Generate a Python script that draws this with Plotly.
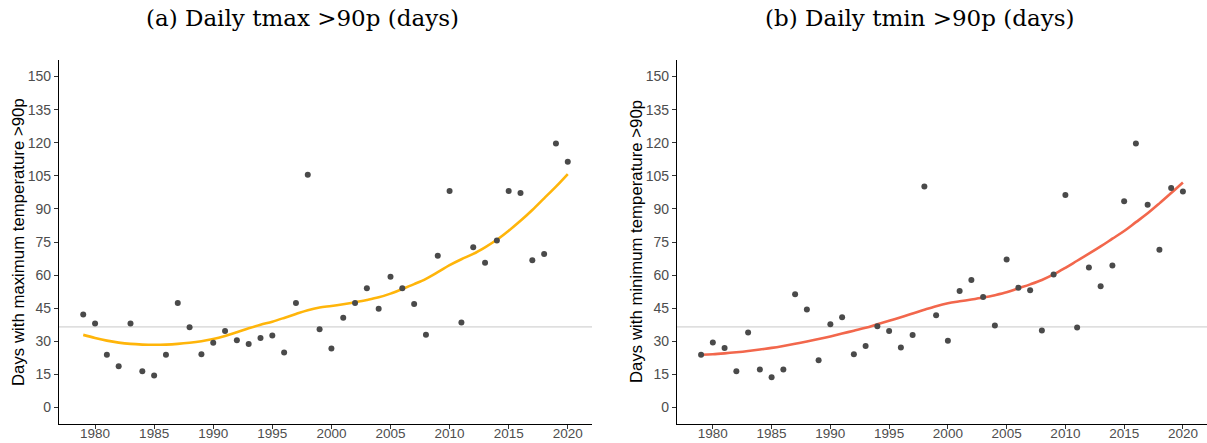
import plotly.graph_objects as go

years = list(range(1979, 2021))

tmax_days = [42.1, 38.0, 23.9, 18.7, 38.0, 16.4, 14.5, 23.9, 47.4, 36.4,
             24.1, 29.3, 34.6, 30.5, 28.8, 31.5, 32.6, 24.9, 47.4, 105.5,
             35.5, 26.7, 40.7, 47.4, 54.0, 44.7, 59.2, 54.0, 46.9, 33.0,
             68.8, 98.1, 38.5, 72.6, 65.6, 75.7, 98.1, 97.2, 66.7, 69.6,
             119.7, 111.4]

tmax_smooth = [32.9, 31.5, 30.3, 29.4, 28.8, 28.5, 28.4, 28.5, 28.8, 29.3,
               30.0, 31.0, 32.4, 34.1, 35.9, 37.5, 38.9, 40.6, 42.4, 44.1,
               45.3, 46.0, 46.8, 47.7, 48.7, 49.9, 51.6, 53.7, 55.9, 58.3,
               61.3, 64.5, 67.2, 69.6, 72.6, 76.0, 80.1, 84.6, 89.5, 94.8,
               100.1, 105.8]

tmin_days = [23.9, 29.4, 27.0, 16.4, 34.0, 17.2, 13.7, 17.2, 51.3, 44.4,
             21.4, 37.7, 40.9, 24.1, 27.9, 36.8, 34.6, 27.2, 32.9, 100.2,
             41.8, 30.2, 52.8, 57.8, 50.1, 37.1, 67.1, 54.3, 53.1, 34.9,
             60.3, 96.3, 36.2, 63.4, 54.9, 64.4, 93.5, 119.7, 91.9, 71.5,
             99.5, 97.9]

tmin_smooth = [23.9, 24.1, 24.5, 25.0, 25.6, 26.3, 27.0, 27.9, 28.9, 29.9,
               31.0, 32.2, 33.5, 34.8, 36.1, 37.7, 39.3, 40.9, 42.6, 44.3,
               45.9, 47.2, 48.1, 48.9, 49.8, 50.9, 52.2, 54.0, 55.8, 57.8,
               60.3, 63.3, 66.5, 69.7, 73.0, 76.5, 80.0, 84.0, 88.0, 92.5,
               97.2, 102.0]

ref_level = 36.5
titles = ["(a) Daily tmax >90p (days)", "(b) Daily tmin >90p (days)"]
ytitles = ["Days with maximum temperature >90p", "Days with minimum temperature >90p"]
x_ticks = [1980, 1985, 1990, 1995, 2000, 2005, 2010, 2015, 2020]
y_ticks = [0, 15, 30, 45, 60, 75, 90, 105, 120, 135, 150]
x_range = [1976.95, 2022.05]
y_range = [-7.5, 157.5]

W, H = 1207, 443
fig = go.Figure()

line_colors = ["#FFB50A", "#F2674C"]
series = [(tmax_days, tmax_smooth), (tmin_days, tmin_smooth)]
xnames = ["x", "x2"]
ynames = ["y", "y2"]
tick_axes = ["x3", "x4"]

for i, (pts, sm) in enumerate(series):
    fig.add_trace(go.Scatter(x=years, y=sm, mode="lines", xaxis=xnames[i], yaxis=ynames[i],
                             line=dict(color=line_colors[i], width=2.6, shape="spline"),
                             showlegend=False, hoverinfo="skip"))
    fig.add_trace(go.Scatter(x=years, y=pts, mode="markers", xaxis=xnames[i], yaxis=ynames[i],
                             marker=dict(color="#4a4a4a", size=6),
                             showlegend=False))
    # invisible trace so the tick-mark/axis-line overlay axis renders
    fig.add_trace(go.Scatter(x=[x_ticks[0]], y=[ref_level], mode="markers",
                             xaxis=tick_axes[i], yaxis=ynames[i],
                             marker=dict(opacity=0), showlegend=False, hoverinfo="skip"))
    fig.add_shape(type="line", xref=f"{xnames[i]} domain", yref=ynames[i],
                  x0=0, x1=1, y0=ref_level, y1=ref_level,
                  line=dict(color="#c8c8c8", width=1), layer="below")

doms_x = [[59 / W, 592 / W], [677 / W, 1.0]]
dom_y = [(H - 424) / H, (H - 60) / H]
label_pos = (H - 423) / H

tickfont = dict(family="Liberation Sans, Arial", size=14, color="#4d4d4d")
xtickfont = dict(family="Liberation Sans, Arial", size=13.5, color="#4d4d4d")
layout = dict(width=W, height=H, margin=dict(l=0, r=0, t=0, b=0, autoexpand=False),
              paper_bgcolor="white", plot_bgcolor="white")

for i in range(2):
    sfx = "" if i == 0 else "2"
    # data axis: carries the tick labels only
    layout["xaxis" + sfx] = dict(domain=doms_x[i], anchor="free", position=label_pos,
                                 range=x_range, tickvals=x_ticks, ticks="",
                                 showline=False, showgrid=False, zeroline=False,
                                 automargin=False, tickfont=xtickfont)
    layout["yaxis" + sfx] = dict(domain=dom_y, anchor=xnames[i], range=y_range,
                                 tickvals=y_ticks, ticks="outside", ticklen=4,
                                 tickcolor="#333333", tickwidth=1, showline=True,
                                 linecolor="black", linewidth=1.2, showgrid=False,
                                 zeroline=False, automargin=False, tickfont=tickfont)
    # overlay axis: axis line and tick marks
    layout["xaxis" + str(3 + i)] = dict(domain=doms_x[i], anchor=ynames[i], range=x_range,
                                        overlaying=xnames[i], side="bottom",
                                        tickvals=x_ticks, ticks="outside", ticklen=4,
                                        tickcolor="#333333", tickwidth=1,
                                        showticklabels=False, showline=True,
                                        linecolor="black", linewidth=1.2,
                                        showgrid=False, zeroline=False, automargin=False)

annotations = []
title_centers = [302, 919]
for i in range(2):
    annotations.append(dict(text=titles[i], x=title_centers[i] / W, y=1 - 18 / H,
                            xref="paper", yref="paper", xanchor="center", yanchor="middle",
                            showarrow=False,
                            font=dict(family="DejaVu Serif", size=23, color="black")))
ytitle_x = [18, 636]
for i in range(2):
    annotations.append(dict(text=ytitles[i], x=ytitle_x[i] / W, y=1 - 242 / H,
                            xref="paper", yref="paper", xanchor="center", yanchor="middle",
                            showarrow=False, textangle=-90,
                            font=dict(family="Liberation Sans, Arial", size=16.8, color="black")))
layout["annotations"] = annotations
fig.update_layout(**layout)

fig.write_html("out.html", config={"displayModeBar": False},
               post_script="document.body.style.margin='0';document.body.style.padding='0';document.body.style.overflow='hidden';")
